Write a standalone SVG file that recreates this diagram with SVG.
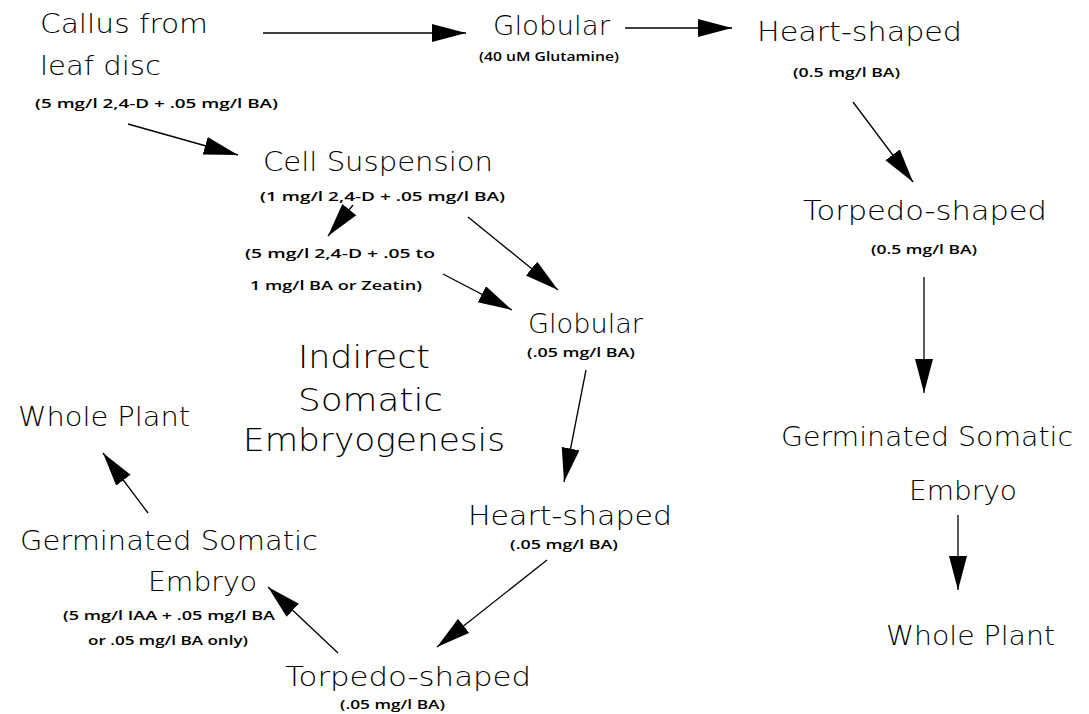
<svg xmlns="http://www.w3.org/2000/svg" width="1089" height="714" viewBox="0 0 1089 714">
<style>
.m{font-family:"DejaVu Sans","Liberation Sans",sans-serif;font-weight:200;font-size:26px;fill:#000}
.b{font-family:"DejaVu Sans","Liberation Sans",sans-serif;font-weight:200;font-size:32px;fill:#000}
.s{font-family:"Open Sans","DejaVu Sans",sans-serif;font-weight:600;font-size:13px;fill:#000}
.c line{stroke:#000;stroke-width:1.3;fill:none}
</style>
<defs>
<marker id="ah" markerUnits="userSpaceOnUse" markerWidth="36" markerHeight="20" refX="34" refY="9" orient="auto">
<path d="M0,0 L34,9 L0,18 z" fill="#000"/>
</marker>
</defs>
<rect width="1089" height="714" fill="#fff"/>
<g id="callus">
<text class="m" x="40" y="33" textLength="168" lengthAdjust="spacingAndGlyphs">Callus from</text>
<text class="m" x="40" y="75" textLength="121" lengthAdjust="spacingAndGlyphs">leaf disc</text>
<text class="s" x="35" y="108" textLength="243" lengthAdjust="spacingAndGlyphs">(5 mg/l 2,4-D + .05 mg/l BA)</text>
</g>
<g id="globular-direct">
<text class="m" x="493" y="35" textLength="117" lengthAdjust="spacingAndGlyphs">Globular</text>
<text class="s" x="479" y="61" textLength="140" lengthAdjust="spacingAndGlyphs">(40 uM Glutamine)</text>
</g>
<g id="heart-direct">
<text class="m" x="757" y="41" textLength="205" lengthAdjust="spacingAndGlyphs">Heart-shaped</text>
<text class="s" x="793" y="77" textLength="107" lengthAdjust="spacingAndGlyphs">(0.5 mg/l BA)</text>
</g>
<g id="torpedo-direct">
<text class="m" x="803" y="220" textLength="244" lengthAdjust="spacingAndGlyphs">Torpedo-shaped</text>
<text class="s" x="871" y="254" textLength="106" lengthAdjust="spacingAndGlyphs">(0.5 mg/l BA)</text>
</g>
<g id="germinated-direct">
<text class="m" x="781" y="446" textLength="292" lengthAdjust="spacingAndGlyphs">Germinated Somatic</text>
<text class="m" x="909" y="500" textLength="108" lengthAdjust="spacingAndGlyphs">Embryo</text>
</g>
<g id="whole-direct">
<text class="m" x="886" y="645" textLength="169" lengthAdjust="spacingAndGlyphs">Whole Plant</text>
</g>
<g id="cell-suspension">
<text class="m" x="263" y="171" textLength="230" lengthAdjust="spacingAndGlyphs">Cell Suspension</text>
<text class="s" x="260" y="201" textLength="245" lengthAdjust="spacingAndGlyphs">(1 mg/l 2,4-D + .05 mg/l BA)</text>
</g>
<g id="medium-step">
<text class="s" x="245" y="258" textLength="190" lengthAdjust="spacingAndGlyphs">(5 mg/l 2,4-D + .05 to</text>
<text class="s" x="250" y="290" textLength="172" lengthAdjust="spacingAndGlyphs">1 mg/l BA or Zeatin)</text>
</g>
<g id="globular-indirect">
<text class="m" x="528" y="333" textLength="115" lengthAdjust="spacingAndGlyphs">Globular</text>
<text class="s" x="527" y="357" textLength="108" lengthAdjust="spacingAndGlyphs">(.05 mg/l BA)</text>
</g>
<g id="title">
<text class="b" x="298" y="368" textLength="132" lengthAdjust="spacingAndGlyphs">Indirect</text>
<text class="b" x="298" y="411" textLength="145" lengthAdjust="spacingAndGlyphs">Somatic</text>
<text class="b" x="243" y="451" textLength="262" lengthAdjust="spacingAndGlyphs">Embryogenesis</text>
</g>
<g id="heart-indirect">
<text class="m" x="468" y="525" textLength="204" lengthAdjust="spacingAndGlyphs">Heart-shaped</text>
<text class="s" x="510" y="549" textLength="108" lengthAdjust="spacingAndGlyphs">(.05 mg/l BA)</text>
</g>
<g id="torpedo-indirect">
<text class="m" x="285" y="686" textLength="246" lengthAdjust="spacingAndGlyphs">Torpedo-shaped</text>
<text class="s" x="340" y="709" textLength="105" lengthAdjust="spacingAndGlyphs">(.05 mg/l BA)</text>
</g>
<g id="germinated-indirect">
<text class="m" x="20" y="550" textLength="298" lengthAdjust="spacingAndGlyphs">Germinated Somatic</text>
<text class="m" x="148" y="591" textLength="109" lengthAdjust="spacingAndGlyphs">Embryo</text>
<text class="s" x="63" y="620" textLength="212" lengthAdjust="spacingAndGlyphs">(5 mg/l IAA + .05 mg/l BA</text>
<text class="s" x="88" y="645" textLength="160" lengthAdjust="spacingAndGlyphs">or .05 mg/l BA only)</text>
</g>
<g id="whole-indirect">
<text class="m" x="18" y="426" textLength="172" lengthAdjust="spacingAndGlyphs">Whole Plant</text>
</g>
<g id="connectors" class="c">
<line x1="263" y1="33" x2="466" y2="33" marker-end="url(#ah)"/>
<line x1="625" y1="28" x2="732" y2="28" marker-end="url(#ah)"/>
<line x1="853" y1="102" x2="913" y2="182" marker-end="url(#ah)"/>
<line x1="924" y1="277" x2="924" y2="393" marker-end="url(#ah)"/>
<line x1="958" y1="515" x2="958" y2="590" marker-end="url(#ah)"/>
<line x1="128" y1="124" x2="238" y2="155" marker-end="url(#ah)"/>
<line x1="353" y1="205" x2="328" y2="236" marker-end="url(#ah)"/>
<line x1="468" y1="217" x2="558" y2="290" marker-end="url(#ah)"/>
<line x1="443" y1="274" x2="512" y2="310" marker-end="url(#ah)"/>
<line x1="586" y1="370" x2="564" y2="482" marker-end="url(#ah)"/>
<line x1="547" y1="560" x2="437" y2="647" marker-end="url(#ah)"/>
<line x1="338" y1="653" x2="268" y2="587" marker-end="url(#ah)"/>
<line x1="148" y1="513" x2="103" y2="453" marker-end="url(#ah)"/>
</g>
</svg>
